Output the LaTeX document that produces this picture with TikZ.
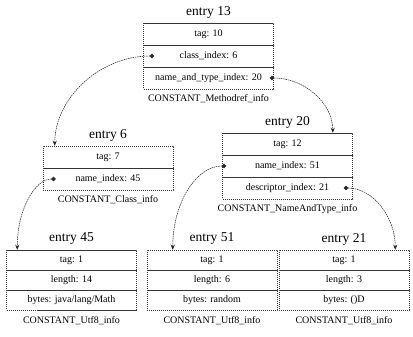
\documentclass[tikz,border=0pt]{standalone}
\usepackage{fontspec}
\setmainfont{Liberation Serif}
\usetikzlibrary{arrows.meta}
\tikzset{
  rowbox/.style={draw=black!80, dash pattern=on 1.2pt off 0.8pt, line width=0.5pt,
    minimum width=130pt, minimum height=22pt, inner sep=0pt,
    font=\fontsize{10}{11}\selectfont},
  rowboxb/.style={rowbox, minimum height=20pt},
  etitle/.style={inner sep=0pt, font=\fontsize{13.5}{15}\selectfont},
  ecap/.style={inner sep=0pt, font=\fontsize{10}{11}\selectfont},
  ptr/.style={draw=black!85, dash pattern=on 1.5pt off 0.8pt, line width=0.55pt,
    {Circle[length=4.5pt]}-{Stealth[length=5pt,width=4pt]}}
}
\begin{document}
\begin{tikzpicture}[x=1pt,y=-1pt]
\useasboundingbox (0,0) rectangle (413,337);
% entry 13
\node[etitle] (t13) at (208.5,12) {entry 13};
\node[rowbox] (e13a) at (208.5,34) {tag: 10};
\node[rowbox] (e13b) at (208.5,56) {class\_index: 6};
\node[rowbox] (e13c) at (208.5,78) {name\_and\_type\_index: 20};
\node[ecap] (c13) at (208.5,99) {CONSTANT\_Methodref\_info};
% entry 6
\node[etitle] (t6) at (108,135) {entry 6};
\node[rowbox] (e6a) at (108,157) {tag: 7};
\node[rowbox] (e6b) at (108,179) {name\_index: 45};
\node[ecap] (c6) at (108,200) {CONSTANT\_Class\_info};
% entry 20
\node[etitle] (t20) at (287.5,122) {entry 20};
\node[rowbox] (e20a) at (287.5,144) {tag: 12};
\node[rowbox] (e20b) at (287.5,166) {name\_index: 51};
\node[rowbox] (e20c) at (287.5,188) {descriptor\_index: 21};
\node[ecap] (c20) at (287.5,209) {CONSTANT\_NameAndType\_info};
% entry 45
\node[etitle] (t45) at (71.5,239) {entry 45};
\node[rowboxb] (e45a) at (71.5,260) {tag: 1};
\node[rowboxb] (e45b) at (71.5,280) {length: 14};
\node[rowboxb] (e45c) at (71.5,300) {bytes: java/lang/Math};
\node[ecap] (c45) at (71.5,321) {CONSTANT\_Utf8\_info};
% entry 51
\node[etitle] (t51) at (212,239) {entry 51};
\node[rowboxb] (e51a) at (212,260) {tag: 1};
\node[rowboxb] (e51b) at (212,280) {length: 6};
\node[rowboxb] (e51c) at (212,300) {bytes: random};
\node[ecap] (c51) at (212,321) {CONSTANT\_Utf8\_info};
% entry 21
\node[etitle] (t21) at (344,239) {entry 21};
\node[rowboxb] (e21a) at (344,260) {tag: 1};
\node[rowboxb] (e21b) at (344,280) {length: 3};
\node[rowboxb] (e21c) at (344,300) {bytes: ()D};
\node[ecap] (c21) at (344,321) {CONSTANT\_Utf8\_info};
% pointer anchors
\coordinate (p13b) at ([xshift=11pt]e13b.west);
\coordinate (p13c) at ([xshift=-4pt]e13c.east);
\coordinate (p6b) at ([xshift=13pt]e6b.west);
\coordinate (p20b) at ([xshift=4pt]e20b.west);
\coordinate (p20c) at ([xshift=-9pt]e20c.east);
\coordinate (q6) at ([xshift=12pt]e6a.north west);
\coordinate (q20) at ([xshift=-20pt]e20a.north east);
\coordinate (q45) at ([xshift=11pt]e45a.north west);
\coordinate (q51) at ([xshift=26pt]e51a.north west);
\coordinate (q21) at ([xshift=-14pt]e21a.north east);
% pointers
\draw[ptr] (p13b) .. controls +(-55,0) and +(0,-47) .. (q6);
\draw[ptr] (p13c) .. controls +(34,0) and +(0,-30) .. (q20);
\draw[ptr] (p6b) .. controls +(-21,0) and +(0,-40) .. (q45);
\draw[ptr] (p20b) .. controls +(-30,0) and +(0,-47) .. (q51);
\draw[ptr] (p20c) .. controls +(29,0) and +(0,-33) .. (q21);
\end{tikzpicture}
\end{document}
